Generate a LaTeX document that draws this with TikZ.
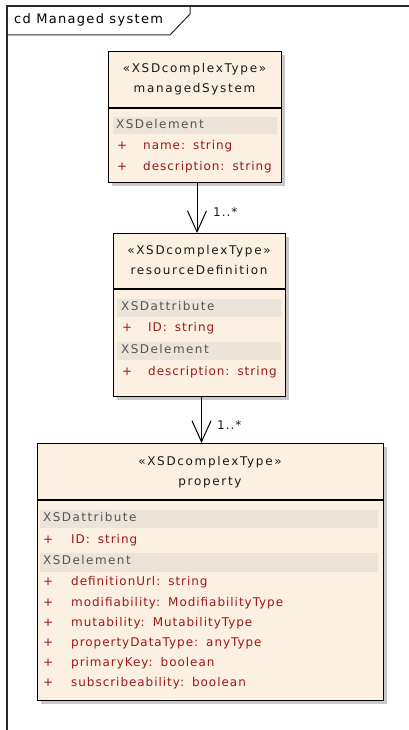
\documentclass[tikz,border=0pt]{standalone}
\usepackage{fontspec}
\usetikzlibrary{arrows.meta}
\newfontfamily\headfont{DejaVu Sans}[LetterSpace=14]
\newfontfamily\sectfont{DejaVu Sans}[LetterSpace=12]
\newfontfamily\attrfont{DejaVu Sans}[LetterSpace=8]
\newfontfamily\titlefont{DejaVu Sans}[LetterSpace=10]
% wide gap after the colon of an attribute
\newcommand\colgap{\hspace{8pt}}
\definecolor{classfill}{RGB}{251,240,225}
\definecolor{bandfill}{RGB}{236,228,216}
\definecolor{shadowgray}{RGB}{200,200,200}
\definecolor{attrred}{RGB}{155,25,25}
\definecolor{headgray}{RGB}{85,85,85}
\definecolor{framegray}{RGB}{40,40,40}
\tikzset{
  classbox/.style={draw=black, line width=1.3pt, fill=classfill, inner sep=0pt, anchor=north west},
  boxshadow/.style={fill=shadowgray, draw=none},
  band/.style={fill=bandfill, draw=none},
  txt/.style={inner sep=0pt},
  stereo/.style={txt, anchor=mid, text=black!90, font=\headfont\fontsize{12}{14}\selectfont},
  sect/.style={txt, anchor=mid west, text=headgray, font=\sectfont\fontsize{12}{14}\selectfont},
  attr/.style={txt, anchor=mid west, text=attrred, font=\attrfont\fontsize{12}{14}\selectfont},
  mult/.style={txt, anchor=mid west, text=black!90, font=\attrfont\fontsize{12}{14}\selectfont},
  assoc/.style={line width=1pt, -{Straight Barb[length=21pt, width=19pt, line width=1pt]}},
}
\begin{document}
\begin{tikzpicture}[x=1pt, y=-1pt]
\useasboundingbox (0,0) rectangle (408,730);
% diagram frame with its name tab
\draw[framegray, line width=1.3pt] (7,735) -- (7,6) -- (415,6);
\draw[framegray, line width=1pt] (7,35) -- (170,35) -- (190,14) -- (190,6);
\node[inner sep=0pt, anchor=mid west, font=\titlefont\fontsize{13}{15}\selectfont] (title) at (14,21) {cd Managed system};

% managedSystem
\fill[boxshadow] (112,55) rectangle (285,186);
\node[classbox, minimum width=173pt, minimum height=131pt] (ms) at (108,51) {};
\draw[line width=1.3pt] (108,108) -- (281,108);
\fill[band] (113,117) rectangle (277,134);
\node[stereo] (ms-st) at (194.5,70) {«XSDcomplexType»};
\node[stereo] (ms-nm) at (194.5,90) {managedSystem};
\node[sect] (ms-s1) at (116,126) {XSDelement};
\node[attr] (ms-p1) at (117,147) {+};
\node[attr] (ms-a1) at (143,147) {name:\colgap string};
\node[attr] (ms-p2) at (117,168) {+};
\node[attr] (ms-a2) at (143,168) {description:\colgap string};

% resourceDefinition
\fill[boxshadow] (117,237) rectangle (289,400);
\node[classbox, minimum width=172pt, minimum height=163pt] (rd) at (113,233) {};
\draw[line width=1.3pt] (113,289) -- (285,289);
\fill[band] (117,299) rectangle (281,317);
\fill[band] (117,342) rectangle (281,360);
\node[stereo] (rd-st) at (199,252) {«XSDcomplexType»};
\node[stereo] (rd-nm) at (199,272) {resourceDefinition};
\node[sect] (rd-s1) at (121,308) {XSDattribute};
\node[attr] (rd-p1) at (122,329) {+};
\node[attr] (rd-a1) at (148,329) {ID:\colgap string};
\node[sect] (rd-s2) at (121,351) {XSDelement};
\node[attr] (rd-p2) at (122,373) {+};
\node[attr] (rd-a2) at (148,373) {description:\colgap string};

% property
\fill[boxshadow] (41,447) rectangle (387,704);
\node[classbox, minimum width=346pt, minimum height=257pt] (pr) at (37,443) {};
\draw[line width=1.3pt] (37,500) -- (383,500);
\fill[band] (40,510) rectangle (378,528);
\fill[band] (40,553) rectangle (378,572);
\node[stereo] (pr-st) at (210,463) {«XSDcomplexType»};
\node[stereo] (pr-nm) at (210,483) {property};
\node[sect] (pr-s1) at (43,519) {XSDattribute};
\node[attr] (pr-p1) at (43,541) {+};
\node[attr] (pr-a1) at (71,541) {ID:\colgap string};
\node[sect] (pr-s2) at (43,562) {XSDelement};
\foreach \y/\t [count=\i] in {583/{definitionUrl:\colgap string},
    604/{modifiability:\colgap ModifiabilityType},
    624/{mutability:\colgap MutabilityType},
    644/{propertyDataType:\colgap anyType},
    664/{primaryKey:\colgap boolean},
    684/{subscribeability:\colgap boolean}} {
  \node[attr] (pr-p\i) at (43,\y) {+};
  \node[attr] (pr-e\i) at (71,\y) {\t};
}

% associations
\coordinate (l1) at (197,0);
\coordinate (l2) at (201.5,0);
\draw[assoc] (l1 |- ms.south) -- (l1 |- rd.north);
\draw[assoc] (l2 |- rd.south) -- (l2 |- pr.north);
\node[mult] (m1) at (213,214) {1..*};
\node[mult] (m2) at (217,427) {1..*};
\end{tikzpicture}
\end{document}
